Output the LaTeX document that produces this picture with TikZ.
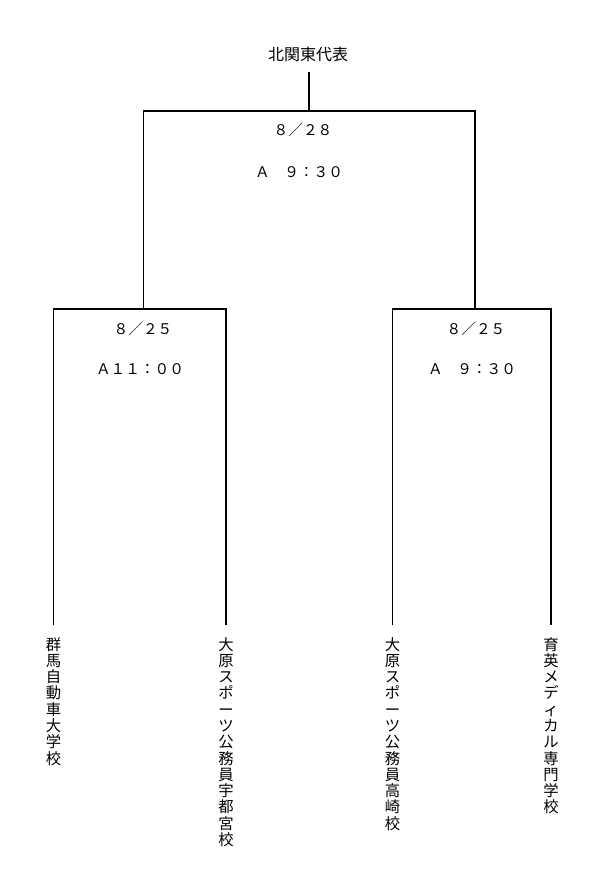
\documentclass[tikz,border=0pt]{standalone}
\usepackage{fontspec}
\newfontfamily\jpfont{Noto Sans CJK JP}
\usetikzlibrary{positioning}
\newcommand{\teama}{群\\馬\\自\\動\\車\\大\\学\\校}
\newcommand{\teamb}{大\\原\\ス\\ポ\\ー\\ツ\\公\\務\\員\\宇\\都\\宮\\校}
\newcommand{\teamc}{大\\原\\ス\\ポ\\ー\\ツ\\公\\務\\員\\高\\崎\\校}
\newcommand{\teamd}{育\\英\\メ\\デ\\ィ\\カ\\ル\\専\\門\\学\\校}

\begin{document}
\begin{tikzpicture}[x=0.75pt,y=-0.75pt,
    line/.style={draw,line width=0.8pt},
    team/.style={anchor=north,inner sep=0pt,align=center,font=\jpfont\fontsize{11.5}{12.2}\selectfont},
    info/.style={inner sep=0pt,font=\jpfont\fontsize{11}{13}\selectfont},
    title/.style={inner sep=0pt,font=\jpfont\fontsize{12}{14}\selectfont}
]
\useasboundingbox (0,0) rectangle (600,884);

\node[title] (champ) at (308,54) {北関東代表};
\coordinate (stem) at (309,72);
\coordinate (fin) at (309,111);
\coordinate (semiL) at (143.3,309);
\coordinate (semiR) at (475,309);

\node[team] (t1) at (53.5,637) {\teama};
\node[team] (t2) at (226,637) {\teamb};
\node[team] (t3) at (392.5,637) {\teamc};
\node[team] (t4) at (551,637) {\teamd};

% bracket lines
\draw[line] ([yshift=9pt]t1.north) |- (semiL) -| ([yshift=9pt]t2.north);
\draw[line] ([yshift=9pt]t3.north) |- (semiR) -| ([yshift=9pt]t4.north);
\draw[line] (semiL) |- (fin) -| (semiR);
\draw[line] (fin) -- (stem);

% dates and times
\node[info] (finD) at (303,130) {８／２８};
\node[info] (finT) at (299,172) {Ａ　９：３０};
\node[info] (semiLD) at (143,329) {８／２５};
\node[info] (semiLT) at (140,369) {Ａ１１：００};
\node[info] (semiRD) at (476,329) {８／２５};
\node[info] (semiRT) at (472,369) {Ａ　９：３０};
\end{tikzpicture}
\end{document}
